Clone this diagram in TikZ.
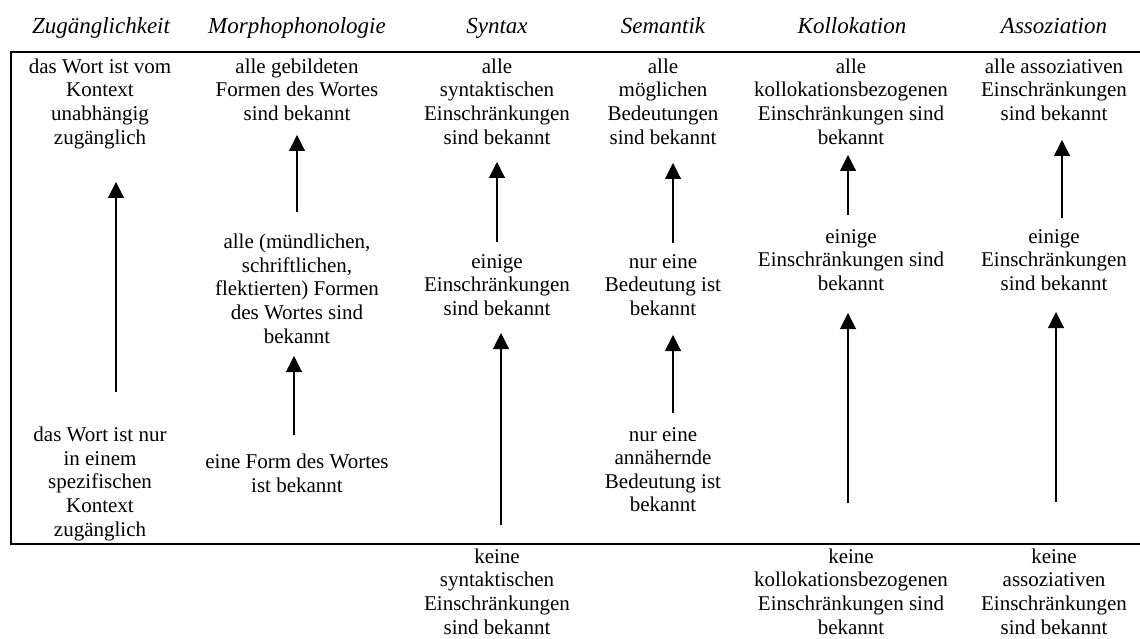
\documentclass[tikz,border=0pt]{standalone}
\usepackage{fontspec}
\setmainfont{Liberation Serif}
\usetikzlibrary{arrows.meta}
\begin{document}
\begin{tikzpicture}[x=1pt,y=-1pt,
  hdr/.style={anchor=base, inner sep=0pt, font=\fontsize{23}{27}\selectfont\itshape},
  cell/.style={anchor=north, align=center, inner sep=0pt,
    font=\fontsize{21}{23.6}\selectfont, execute at begin node=\strut},
  rule/.style={line width=2pt},
  up/.style={line width=1.1pt, -{Triangle[width=16pt,length=16pt]}}]
\useasboundingbox (0,0) rectangle (1140,639);

% column headings
\node[hdr] (h1) at (101,34) {Zugänglichkeit};
\node[hdr] (h2) at (297,34) {Morphophonologie};
\node[hdr] (h3) at (497,34) {Syntax};
\node[hdr] (h4) at (663,34) {Semantik};
\node[hdr] (h5) at (852,34) {Kollokation};
\node[hdr] (h6) at (1054,34) {Assoziation};

% frame: top rule, left side, bottom rule
\draw[rule] (1140,52) -- (11,52) -- (11,544) -- (1140,544);

% upper level
\node[cell] (z1) at (100,58.5) {das Wort ist vom\\Kontext\\unabhängig\\zugänglich};
\node[cell] (m1) at (297,58.5) {alle gebildeten\\Formen des Wortes\\sind bekannt};
\node[cell] (s1) at (497,58.5) {alle\\syntaktischen\\Einschränkungen\\sind bekannt};
\node[cell] (b1) at (663,58.5) {alle\\möglichen\\Bedeutungen\\sind bekannt};
\node[cell] (k1) at (851,58.5) {alle\\kollokationsbezogenen\\Einschränkungen sind\\bekannt};
\node[cell] (a1) at (1054,58.5) {alle assoziativen\\Einschränkungen\\sind bekannt};

% middle level
\node[cell] (m2) at (297,234) {alle (mündlichen,\\schriftlichen,\\flektierten) Formen\\des Wortes sind\\bekannt};
\node[cell] (s2) at (497,254) {einige\\Einschränkungen\\sind bekannt};
\node[cell] (b2) at (663,254) {nur eine\\Bedeutung ist\\bekannt};
\node[cell] (k2) at (851,229) {einige\\Einschränkungen sind\\bekannt};
\node[cell] (a2) at (1054,229) {einige\\Einschränkungen\\sind bekannt};

% lower level
\node[cell] (z3) at (100,427) {das Wort ist nur\\in einem\\spezifischen\\Kontext\\zugänglich};
\node[cell] (m3) at (297,454) {eine Form des Wortes\\ist bekannt};
\node[cell] (b3) at (663,427) {nur eine\\annähernde\\Bedeutung ist\\bekannt};

% below the frame
\node[cell] (s4) at (497,548.5) {keine\\syntaktischen\\Einschränkungen\\sind bekannt};
\node[cell] (k4) at (851,548.5) {keine\\kollokationsbezogenen\\Einschränkungen sind\\bekannt};
\node[cell] (a4) at (1054,548.5) {keine\\assoziativen\\Einschränkungen\\sind bekannt};

% arrow ends
\coordinate (zA) at (116,392);  \coordinate (zB) at (116,182);
\coordinate (mA) at (297,212);  \coordinate (mB) at (297,135);
\coordinate (mC) at (294,435);  \coordinate (mD) at (294,356);
\coordinate (sA) at (497,242);  \coordinate (sB) at (497,162);
\coordinate (sC) at (501,525);  \coordinate (sD) at (501,333);
\coordinate (bA) at (673,243);  \coordinate (bB) at (673,163);
\coordinate (bC) at (673,413);  \coordinate (bD) at (673,335);
\coordinate (kA) at (848,215);  \coordinate (kB) at (848,155);
\coordinate (kC) at (848,503);  \coordinate (kD) at (848,313);
\coordinate (aA) at (1062,218); \coordinate (aB) at (1062,140);
\coordinate (aC) at (1056,502); \coordinate (aD) at (1056,312);

% arrows
\draw[up] (zA) -- (zB);
\draw[up] (mA) -- (mB);
\draw[up] (mC) -- (mD);
\draw[up] (sA) -- (sB);
\draw[up] (sC) -- (sD);
\draw[up] (bA) -- (bB);
\draw[up] (bC) -- (bD);
\draw[up] (kA) -- (kB);
\draw[up] (kC) -- (kD);
\draw[up] (aA) -- (aB);
\draw[up] (aC) -- (aD);
\end{tikzpicture}
\end{document}
